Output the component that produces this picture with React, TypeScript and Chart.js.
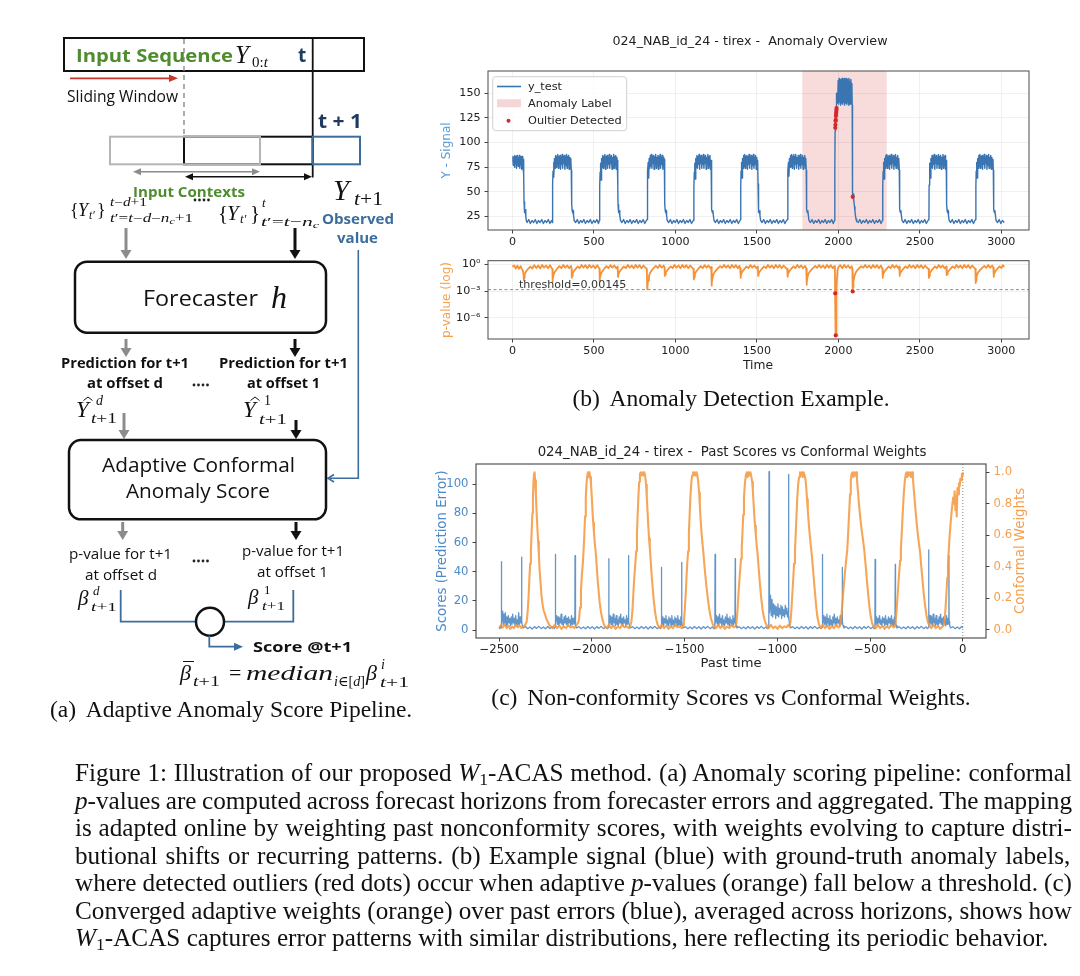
import React, { useEffect, useLayoutEffect, useRef } from "react";
import { Chart, registerables } from "chart.js";

Chart.register(...registerables);

// ---------------- axis ticks & limits ----------------
const SIGNAL_X_TICKS = [0, 500, 1000, 1500, 2000, 2500, 3000];
const SIGNAL_Y_TICKS = [25, 50, 75, 100, 125, 150];
const PVALUE_TICKS = [1e-6, 1e-3, 1];
const PVALUE_TICK_LABELS = ["10⁻⁶", "10⁻³", "10⁰"];
const PAST_X_TICKS = [-2500, -2000, -1500, -1000, -500, 0];
const SCORE_TICKS = [0, 20, 40, 60, 80, 100];
const WEIGHT_TICKS = [0, 0.2, 0.4, 0.6, 0.8, 1.0];

const TIME_LIMITS = [-150, 3170];
const SIGNAL_LIMITS = [11.4, 172.6];
const PVALUE_LIMITS = [4.4e-9, 2.5];
const PAST_LIMITS = [-2625, 125];
const SCORE_LIMITS = [-5.4, 113.9];
const WEIGHT_LIMITS = [-0.053, 1.053];

const ANOMALY_LABEL = [1779, 2297];
const THRESHOLD = 0.00145;

// ---------------- series (flat x,y pairs) ----------------
const Y_TEST = [
  0,80, 3,86, 5,77, 8,85, 10,79, 13,87, 15,75, 18,86, 20,80, 23,85, 25,74, 28,87, 30,78, 33,86, 35,76, 38,85, 40,79, 43,87, 45,74, 48,84, 50,78, 53,86, 55,73, 58,85, 60,77, 63,86, 65,74, 68,83,
  70,68, 71,40, 73,33, 76,29, 79,32, 82,25, 85,21,
  90,19, 100,22, 110,18, 120,21, 130,19, 140,22, 150,18, 160,21, 170,19, 180,22, 190,18, 200,21, 210,19, 220,22, 230,18, 240,21, 245,19,
  246,22, 247,58, 249,71, 252,80, 255,65, 258,84, 262,74, 265,87, 268,75, 272,86, 275,78, 278,88, 282,74, 285,86, 288,79, 292,87, 295,73, 298,85, 302,78, 305,88, 308,74, 312,86, 315,79, 318,87, 322,73, 325,85, 328,77, 332,88, 335,74, 338,86, 342,78, 345,87, 348,73, 352,85, 355,77, 358,84, 361,72,
  363,55, 364,38, 366,32, 369,29, 372,31, 375,26, 379,21,
  388,19, 398,22, 408,18, 418,21, 428,19, 438,22, 448,18, 458,21, 468,19, 478,22, 488,18, 498,21, 508,19, 518,22, 528,18, 533,21,
  535,22, 536,56, 538,70, 541,79, 544,62, 547,84, 551,75, 554,87, 557,74, 561,86, 564,78, 567,88, 571,73, 574,86, 577,79, 581,87, 584,74, 587,85, 591,78, 594,88, 597,74, 601,86, 604,79, 607,87, 611,73, 614,85, 617,78, 621,88, 624,74, 627,86, 631,77, 634,87, 637,73, 641,85, 644,76, 646,82,
  647,55, 648,37, 650,32, 653,29, 656,31, 659,26, 663,21,
  672,19, 682,22, 692,18, 702,21, 712,19, 722,22, 732,18, 742,21, 752,19, 762,22, 772,18, 782,21, 792,19, 802,22, 812,18, 822,21,
  827,22, 828,57, 830,71, 833,80, 836,64, 839,84, 843,74, 846,87, 849,76, 853,88, 856,74, 859,86, 863,79, 866,87, 869,73, 873,86, 876,78, 879,88, 883,74, 886,85, 889,79, 893,87, 896,73, 899,86, 903,77, 906,88, 909,74, 913,85, 916,78, 919,87, 923,73, 926,85, 929,77, 932,83,
  934,60, 935,38, 937,32, 940,29, 943,31, 946,26, 950,21,
  959,19, 969,22, 979,18, 989,21, 999,19, 1009,22, 1019,18, 1029,21, 1039,19, 1049,22, 1059,18, 1069,21, 1079,19, 1089,22, 1099,18, 1109,21,
  1113,22, 1114,55, 1116,70, 1119,79, 1122,63, 1125,84, 1129,75, 1132,87, 1135,74, 1139,86, 1142,78, 1145,88, 1149,73, 1152,86, 1155,79, 1159,87, 1162,74, 1165,85, 1169,78, 1172,88, 1175,74, 1179,86, 1182,79, 1185,87, 1189,73, 1192,85, 1195,78, 1199,88, 1202,74, 1205,86, 1209,77, 1212,87, 1215,73, 1219,82,
  1221,58, 1222,37, 1224,32, 1227,29, 1230,31, 1233,26, 1237,21,
  1246,19, 1256,22, 1266,18, 1276,21, 1286,19, 1296,22, 1306,18, 1316,21, 1326,19, 1336,22, 1346,18, 1356,21, 1366,19, 1376,22, 1386,18, 1396,21,
  1400,22, 1401,56, 1403,71, 1406,80, 1409,64, 1412,84, 1416,74, 1419,87, 1422,76, 1426,88, 1429,74, 1432,86, 1436,79, 1439,87, 1442,73, 1446,86, 1449,78, 1452,88, 1456,74, 1459,85, 1462,79, 1466,87, 1469,73, 1472,86, 1476,77, 1479,88, 1482,74, 1486,85, 1489,78, 1492,87, 1496,73, 1499,85, 1502,77, 1505,82,
  1507,58, 1508,37, 1510,32, 1513,29, 1516,31, 1519,26, 1523,21,
  1532,19, 1542,22, 1552,18, 1562,21, 1572,19, 1582,22, 1592,18, 1602,21, 1612,19, 1622,22, 1632,18, 1642,21, 1652,19, 1662,22, 1672,18, 1682,21,
  1688,22, 1689,58, 1691,72, 1694,80, 1697,66, 1700,84, 1704,75, 1707,87, 1710,76, 1714,88, 1717,74, 1720,86, 1724,79, 1727,88, 1730,73, 1734,86, 1737,78, 1740,88, 1744,74, 1747,85, 1750,79, 1754,87, 1757,73, 1760,86, 1764,77, 1767,88, 1770,74, 1774,85, 1777,78, 1780,87, 1784,73, 1787,85, 1790,77, 1794,87, 1797,74, 1800,84, 1803,72,
  1804,58, 1805,37, 1807,32, 1810,29, 1813,31, 1816,26, 1820,21,
  1829,19, 1839,22, 1849,18, 1859,21, 1869,19, 1879,22, 1889,18, 1899,21, 1909,19, 1919,22, 1929,18, 1939,21, 1949,19, 1959,22, 1969,18, 1976,21,
  1978,22, 1979,75, 1980,112, 1981,115, 1982,118, 1983,122, 1984,123, 1985,127, 1986,129, 1987,131, 1988,133, 1989,135, 1991,150, 1993,140,
  1996,142, 1999,163, 2002,139, 2005,165, 2008,141, 2011,162, 2014,138, 2017,164, 2020,140, 2023,165, 2026,139, 2029,163, 2032,141, 2035,165, 2038,138, 2041,162, 2044,140, 2047,165, 2050,139, 2053,163, 2056,141, 2059,164, 2062,138, 2065,165, 2068,140, 2071,162, 2074,139, 2077,164, 2080,141, 2083,160, 2085,138,
  2086,100, 2087,60, 2088,45, 2090,44, 2093,48, 2096,42, 2099,35, 2102,30, 2105,26, 2109,22, 2113,20,
  2122,19, 2132,22, 2142,18, 2152,21, 2162,19, 2172,22, 2182,18, 2192,21, 2202,19, 2212,22, 2222,18, 2232,21, 2242,19, 2252,22, 2262,18, 2270,21,
  2272,22, 2273,56, 2275,71, 2278,80, 2281,63, 2284,84, 2288,74, 2291,87, 2294,76, 2298,88, 2301,74, 2304,86, 2308,79, 2311,87, 2314,73, 2318,86, 2321,78, 2324,88, 2328,74, 2331,85, 2334,79, 2338,87, 2341,73, 2344,86, 2348,77, 2351,88, 2354,74, 2358,85, 2361,78, 2364,87, 2368,73, 2371,84, 2374,72,
  2375,58, 2376,37, 2378,32, 2381,29, 2384,31, 2387,26, 2391,21,
  2400,19, 2410,22, 2420,18, 2430,21, 2440,19, 2450,22, 2460,18, 2470,21, 2480,19, 2490,22, 2500,18, 2510,21, 2520,19, 2530,22, 2540,18, 2550,21,
  2556,22, 2557,57, 2559,70, 2562,79, 2565,64, 2568,84, 2572,75, 2575,87, 2578,74, 2582,86, 2585,78, 2588,88, 2592,73, 2595,86, 2598,79, 2602,87, 2605,74, 2608,85, 2612,78, 2615,88, 2618,74, 2622,86, 2625,79, 2628,87, 2632,73, 2635,85, 2638,78, 2642,88, 2645,74, 2648,86, 2652,77, 2655,87, 2658,73, 2662,82,
  2664,58, 2665,37, 2667,32, 2670,29, 2673,31, 2676,26, 2680,21,
  2689,19, 2699,22, 2709,18, 2719,21, 2729,19, 2739,22, 2749,18, 2759,21, 2769,19, 2779,22, 2789,18, 2799,21, 2809,19, 2819,22, 2829,18, 2838,21,
  2843,22, 2844,56, 2846,71, 2849,80, 2852,64, 2855,84, 2859,74, 2862,87, 2865,76, 2869,88, 2872,74, 2875,86, 2879,79, 2882,87, 2885,73, 2889,86, 2892,78, 2895,88, 2899,74, 2902,85, 2905,79, 2909,87, 2912,73, 2915,86, 2919,77, 2922,88, 2925,74, 2929,85, 2932,78, 2935,87, 2939,73, 2942,85, 2945,77, 2949,83, 2951,72,
  2952,58, 2953,37, 2955,32, 2958,29, 2961,31, 2964,26, 2968,21,
  2977,19, 2987,22, 2997,18, 3007,21, 3018,19,
];

const SIGNAL_OUTLIERS = [1981,115, 1982,118, 1983,122, 1984,123, 1985,127, 1986,129, 1987,131, 1988,133, 1989,135, 2088,45];

const P_VALUES = [
  0,0.5, 10,0.75, 20,0.33, 30,0.68, 40,0.3, 50,0.62, 58,0.28, 64,0.2, 68,0.08,
  70,0.016, 72,0.03, 75,0.07, 80,0.12, 88,0.2, 98,0.32, 110,0.55, 122,0.33, 134,0.78, 146,0.38, 158,0.72, 170,0.33, 182,0.82, 194,0.42, 206,0.72, 218,0.35, 230,0.78, 240,0.38, 245,0.3,
  246,0.01, 248,0.02, 252,0.06, 258,0.12, 266,0.2, 276,0.35, 288,0.62, 300,0.36, 312,0.82, 324,0.42, 336,0.72, 348,0.36, 358,0.66, 363,0.33,
  364,0.03, 366,0.05, 370,0.1, 378,0.18, 388,0.3, 400,0.56, 412,0.36, 424,0.82, 436,0.42, 448,0.78, 460,0.36, 472,0.82, 484,0.42, 496,0.72, 508,0.36, 520,0.78, 530,0.4, 534,0.3,
  535,0.012, 537,0.025, 541,0.06, 547,0.12, 555,0.2, 565,0.35, 577,0.62, 589,0.36, 601,0.78, 613,0.42, 625,0.72, 637,0.36, 646,0.55,
  648,0.04, 650,0.06, 654,0.11, 662,0.2, 672,0.32, 684,0.56, 696,0.36, 708,0.82, 720,0.42, 732,0.72, 744,0.36, 756,0.82, 768,0.42, 780,0.78, 792,0.36, 804,0.72, 816,0.4, 825,0.3,
  827,0.0016, 829,0.004, 832,0.015, 838,0.05, 846,0.12, 856,0.22, 868,0.4, 880,0.66, 892,0.38, 904,0.82, 916,0.42, 928,0.72, 934,0.4,
  935,0.05, 937,0.07, 941,0.12, 949,0.2, 959,0.32, 971,0.56, 983,0.36, 995,0.82, 1007,0.42, 1019,0.72, 1031,0.36, 1043,0.82, 1055,0.42, 1067,0.78, 1079,0.36, 1091,0.72, 1103,0.4, 1111,0.3,
  1113,0.02, 1115,0.035, 1119,0.07, 1125,0.13, 1133,0.2, 1143,0.35, 1155,0.62, 1167,0.36, 1179,0.78, 1191,0.42, 1203,0.72, 1215,0.36, 1220,0.5,
  1222,0.004, 1224,0.008, 1227,0.025, 1233,0.07, 1241,0.13, 1251,0.22, 1263,0.38, 1275,0.62, 1287,0.4, 1299,0.82, 1311,0.42, 1323,0.72, 1335,0.36, 1347,0.82, 1359,0.42, 1371,0.78, 1383,0.36, 1393,0.66, 1398,0.33,
  1400,0.03, 1402,0.05, 1406,0.1, 1414,0.18, 1424,0.3, 1436,0.56, 1448,0.36, 1460,0.8, 1472,0.42, 1484,0.72, 1496,0.36, 1506,0.55,
  1508,0.05, 1510,0.07, 1514,0.12, 1522,0.2, 1532,0.32, 1544,0.56, 1556,0.36, 1568,0.82, 1580,0.42, 1592,0.72, 1604,0.36, 1616,0.82, 1628,0.42, 1640,0.78, 1652,0.36, 1664,0.72, 1676,0.4, 1686,0.3,
  1688,0.04, 1690,0.06, 1694,0.11, 1702,0.2, 1712,0.32, 1724,0.56, 1736,0.36, 1748,0.82, 1760,0.42, 1772,0.74, 1784,0.36, 1796,0.66, 1803,0.33,
  1805,0.005, 1807,0.01, 1810,0.03, 1816,0.08, 1824,0.14, 1834,0.24, 1846,0.4, 1858,0.66, 1870,0.4, 1882,0.82, 1894,0.42, 1906,0.72, 1918,0.36, 1930,0.82, 1942,0.42, 1954,0.78, 1966,0.36, 1975,0.6, 1979,0.3,
  1980,0.0006, 1981,0.00056, 1982,1e-6, 1983,3e-8, 1984,1.1e-8, 1985,5e-8, 1986,2e-7, 1987,1.2e-8, 1988,4e-7, 1989,2e-5, 1990,1e-3, 1992,0.05, 1994,0.2, 2000,0.45, 2012,0.78, 2024,0.36, 2036,0.82, 2048,0.42, 2060,0.72, 2072,0.36, 2082,0.6, 2086,0.3,
  2088,0.0009, 2090,0.003, 2093,0.012, 2099,0.05, 2107,0.12, 2117,0.22, 2129,0.38, 2141,0.62, 2153,0.4, 2165,0.82, 2177,0.42, 2189,0.72, 2201,0.36, 2213,0.82, 2225,0.42, 2237,0.78, 2249,0.36, 2261,0.72, 2270,0.33,
  2272,0.03, 2274,0.05, 2278,0.1, 2286,0.18, 2296,0.3, 2308,0.56, 2320,0.36, 2332,0.8, 2344,0.42, 2356,0.72, 2368,0.36, 2374,0.55,
  2376,0.05, 2378,0.07, 2382,0.12, 2390,0.2, 2400,0.32, 2412,0.56, 2424,0.36, 2436,0.82, 2448,0.42, 2460,0.72, 2472,0.36, 2484,0.82, 2496,0.42, 2508,0.78, 2520,0.36, 2532,0.72, 2544,0.4, 2554,0.3,
  2556,0.03, 2558,0.05, 2562,0.1, 2570,0.18, 2580,0.3, 2592,0.56, 2604,0.36, 2616,0.8, 2628,0.42, 2640,0.72, 2652,0.36, 2662,0.55,
  2665,0.06, 2667,0.08, 2671,0.13, 2679,0.2, 2689,0.32, 2701,0.56, 2713,0.36, 2725,0.82, 2737,0.42, 2749,0.72, 2761,0.36, 2773,0.82, 2785,0.42, 2797,0.78, 2809,0.36, 2821,0.72, 2833,0.4, 2841,0.3,
  2843,0.008, 2845,0.015, 2848,0.04, 2854,0.09, 2862,0.15, 2872,0.25, 2884,0.42, 2896,0.66, 2908,0.4, 2920,0.82, 2932,0.42, 2944,0.72, 2951,0.4,
  2953,0.04, 2955,0.06, 2959,0.11, 2967,0.2, 2977,0.32, 2989,0.56, 3001,0.38, 3010,0.78, 3018,0.5,
];

const PVALUE_OUTLIERS = [1981,0.00056, 1984,1.1e-8, 2088,0.0009];

const PAST_SCORES = [
  -2500,2, -2496,1, -2492,2.5, -2489,1.5,
  -2488,47, -2487,14, -2484,6, -2481,13, -2478,4, -2475,11, -2471,5, -2467,12, -2463,3, -2459,9, -2455,4, -2451,10, -2447,5, -2443,8, -2439,3, -2435,9, -2431,4, -2427,11, -2423,5, -2419,8, -2415,3, -2411,10, -2407,4, -2403,7, -2399,3, -2395,12, -2391,4, -2387,9, -2383,5, -2380,8, -2379,50, -2378,6, -2375,3, -2370,1.5,
  -2358,2.5, -2346,1, -2334,2.2, -2322,0.8, -2310,2.4, -2298,1.2, -2286,2.6, -2274,1, -2262,2.2, -2250,0.9, -2238,2.5, -2226,1.1, -2214,2.3, -2204,1, -2199,2,
  -2198,52, -2197,12, -2194,5, -2190,10, -2186,4, -2182,9, -2178,3, -2174,8, -2170,5, -2166,11, -2162,4, -2158,7, -2154,3, -2150,9, -2146,5, -2142,10, -2138,4, -2134,8, -2130,3, -2126,9, -2122,5, -2118,7, -2114,3, -2110,10, -2106,4, -2102,8, -2098,5, -2094,9, -2092,4, -2091,51, -2090,6, -2087,3, -2082,1.5,
  -2070,2.4, -2058,1, -2046,2.2, -2034,0.9, -2022,2.5, -2010,1.1, -1998,2.3, -1986,0.8, -1974,2.4, -1962,1.2, -1950,2.6, -1938,1, -1926,2.2, -1915,1, -1910,2,
  -1909,49, -1908,12, -1905,5, -1901,10, -1897,4, -1893,9, -1889,3, -1885,11, -1881,5, -1877,8, -1873,3, -1869,10, -1865,4, -1861,7, -1857,3, -1853,9, -1849,5, -1845,11, -1841,4, -1837,8, -1833,3, -1829,9, -1825,5, -1821,7, -1817,3, -1813,10, -1809,4, -1805,8, -1803,5, -1802,51, -1801,6, -1798,3, -1793,1.5,
  -1781,2.4, -1769,1, -1757,2.2, -1745,0.9, -1733,2.5, -1721,1.1, -1709,2.3, -1697,0.8, -1685,2.4, -1673,1.2, -1661,2.6, -1649,1, -1637,2.2, -1630,1, -1626,2,
  -1625,43, -1624,11, -1621,4, -1617,9, -1613,3, -1609,8, -1605,5, -1601,10, -1597,4, -1593,7, -1589,3, -1585,9, -1581,5, -1577,8, -1573,3, -1569,10, -1565,4, -1561,7, -1557,3, -1553,9, -1549,5, -1545,8, -1541,3, -1537,10, -1533,4, -1529,7, -1525,3, -1521,9, -1518,4, -1516,46.5, -1515,6, -1512,3, -1507,1.5,
  -1495,2.4, -1483,1, -1471,2.2, -1459,0.9, -1447,2.5, -1435,1.1, -1423,2.3, -1411,0.8, -1399,2.4, -1387,1.2, -1375,2.6, -1363,1, -1351,2.2, -1341,1, -1337,2,
  -1336,52, -1335,13, -1332,5, -1328,10, -1324,4, -1320,9, -1316,3, -1312,11, -1308,5, -1304,8, -1300,3, -1296,10, -1292,4, -1288,7, -1284,3, -1280,9, -1276,5, -1272,11, -1268,4, -1264,8, -1260,3, -1256,9, -1252,5, -1248,7, -1244,3, -1240,10, -1236,4, -1232,8, -1229,5, -1227,49, -1226,6, -1223,3, -1218,1.5,
  -1206,2.4, -1194,1, -1182,2.2, -1170,0.9, -1158,2.5, -1146,1.1, -1134,2.3, -1122,0.8, -1110,2.4, -1098,1.2, -1086,2.6, -1074,1, -1062,2.2, -1052,1, -1046,2,
  -1045,108.6, -1044,27, -1041,12, -1037,24, -1033,10, -1029,21, -1025,9, -1021,18, -1017,11, -1013,17, -1009,8, -1005,16, -1001,10, -997,18, -993,9, -989,15, -985,11, -981,17, -977,8, -973,16, -969,10, -965,14, -961,9, -957,17, -953,11, -949,15, -945,9, -941,13, -940,8, -939,106.8, -938,10, -935,4, -930,1.5,
  -918,2.4, -906,1, -894,2.2, -882,0.9, -870,2.5, -858,1.1, -846,2.3, -834,0.8, -822,2.4, -810,1.2, -798,2.6, -786,1, -774,2.2, -764,1, -758,2,
  -757,52, -756,12, -753,5, -749,10, -745,4, -741,9, -737,3, -733,11, -729,5, -725,8, -721,3, -717,10, -713,4, -709,7, -705,3, -701,9, -697,5, -693,11, -689,4, -685,8, -681,3, -677,9, -673,5, -669,7, -665,3, -661,10, -657,4, -653,8, -651,5, -650,43, -649,6, -646,3, -641,1.5,
  -629,2.4, -617,1, -605,2.2, -593,0.9, -581,2.5, -569,1.1, -557,2.3, -545,0.8, -533,2.4, -521,1.2, -509,2.6, -497,1, -485,2.2, -478,1, -474,2,
  -473,48.5, -472,11, -469,4, -465,9, -461,3, -457,8, -453,5, -449,10, -445,4, -441,7, -437,3, -433,9, -429,5, -425,8, -421,3, -417,10, -413,4, -409,7, -405,3, -401,9, -397,5, -393,8, -389,3, -385,10, -381,4, -377,7, -373,3, -369,9, -366,4, -364,45, -363,6, -360,3, -355,1.5,
  -343,2.4, -331,1, -319,2.2, -307,0.9, -295,2.5, -283,1.1, -271,2.3, -259,0.8, -247,2.4, -235,1.2, -223,2.6, -211,1, -199,2.2, -190,1, -185,2,
  -184,55, -183,13, -180,5, -176,10, -172,4, -168,9, -164,3, -160,11, -156,5, -152,8, -148,3, -144,10, -140,4, -136,7, -132,3, -128,9, -124,5, -120,11, -116,4, -112,8, -108,3, -104,9, -100,5, -96,7, -92,3, -88,10, -84,4, -80,8, -77,5, -75,51, -74,6, -71,3, -66,1.5,
  -54,2.4, -42,1, -30,2.2, -18,0.9, -6,2.5, 0,1.5,
];

const CONFORMAL_WEIGHTS = [
  -2500,0.01, -2490,0.03, -2480,0.015, -2470,0.035, -2460,0.01, -2450,0.025, -2440,0.005, -2430,0.02, -2420,0.01, -2410,0.03, -2400,0.015, -2390,0.025, -2380,0.01, -2370,0.02, -2360,0.03,
  -2352,0.05, -2346,0.12, -2341,0.22, -2337,0.33, -2333,0.42, -2329,0.5, -2325,0.62, -2321,0.74, -2318,0.85, -2315,0.94, -2312,0.99, -2309,1.0, -2306,0.95, -2302,0.85, -2298,0.74, -2294,0.65, -2290,0.56, -2286,0.48, -2282,0.38, -2277,0.3, -2272,0.22, -2266,0.16, -2260,0.12, -2253,0.1, -2246,0.07, -2238,0.05, -2230,0.03, -2222,0.02,
  -2212,0.01, -2200,0.03, -2188,0.01, -2176,0.025, -2164,0.005, -2152,0.02, -2140,0.01, -2128,0.03, -2116,0.015, -2104,0.02, -2094,0.01, -2084,0.03, -2076,0.04,
  -2070,0.06, -2064,0.14, -2059,0.25, -2054,0.35, -2049,0.42, -2045,0.5, -2041,0.6, -2037,0.72, -2033,0.84, -2029,0.93, -2025,0.98, -2021,1.0, -2017,0.97, -2013,1.0, -2009,0.97, -2005,0.93, -2001,0.85, -1997,0.76, -1993,0.68, -1989,0.62, -1985,0.56, -1980,0.5, -1975,0.42, -1970,0.33, -1964,0.25, -1958,0.17, -1951,0.11, -1944,0.07, -1937,0.04, -1930,0.02,
  -1920,0.01, -1908,0.03, -1896,0.01, -1884,0.025, -1872,0.005, -1860,0.02, -1848,0.01, -1836,0.03, -1824,0.015, -1812,0.02, -1800,0.01, -1792,0.03,
  -1787,0.05, -1781,0.13, -1776,0.24, -1771,0.34, -1766,0.42, -1761,0.5, -1757,0.62, -1753,0.74, -1749,0.85, -1745,0.94, -1741,0.99, -1737,1.0, -1732,0.98, -1727,1.0, -1722,0.98, -1717,1.0, -1712,0.97, -1708,0.92, -1704,0.84, -1700,0.75, -1696,0.66, -1692,0.58, -1688,0.52, -1683,0.44, -1678,0.35, -1672,0.26, -1666,0.18, -1659,0.11, -1652,0.06, -1645,0.03,
  -1635,0.01, -1623,0.03, -1611,0.01, -1599,0.025, -1587,0.005, -1575,0.02, -1563,0.01, -1551,0.03, -1539,0.015, -1527,0.02, -1515,0.01, -1508,0.03,
  -1504,0.05, -1499,0.13, -1494,0.23, -1490,0.33, -1486,0.42, -1481,0.5, -1477,0.62, -1473,0.73, -1469,0.84, -1465,0.92, -1460,0.98, -1455,1.0, -1450,0.98, -1445,1.0, -1440,0.98, -1435,1.0, -1430,0.97, -1426,0.93, -1422,0.87, -1418,0.79, -1414,0.7, -1409,0.62, -1404,0.55, -1399,0.49, -1394,0.42, -1388,0.34, -1381,0.26, -1374,0.19, -1366,0.12, -1358,0.07, -1350,0.04, -1343,0.02,
  -1331,0.01, -1319,0.03, -1307,0.01, -1295,0.025, -1283,0.005, -1271,0.02, -1259,0.01, -1247,0.03, -1235,0.015, -1227,0.02,
  -1221,0.04, -1215,0.12, -1210,0.22, -1205,0.31, -1200,0.39, -1196,0.45, -1192,0.52, -1188,0.62, -1184,0.73, -1180,0.84, -1175,0.93, -1170,0.98, -1165,1.0, -1160,0.97, -1155,1.0, -1150,0.98, -1145,1.0, -1140,0.97, -1136,0.94, -1132,0.88, -1128,0.8, -1124,0.72, -1120,0.66, -1116,0.6, -1111,0.53, -1106,0.47, -1100,0.38, -1094,0.29, -1087,0.2, -1080,0.13, -1073,0.08, -1066,0.05, -1059,0.03,
  -1047,0.01, -1035,0.03, -1023,0.01, -1011,0.02, -999,0.005, -987,0.025, -975,0.01, -963,0.02, -951,0.015, -941,0.03, -934,0.02,
  -929,0.05, -924,0.13, -919,0.23, -914,0.33, -910,0.42, -905,0.5, -901,0.61, -897,0.72, -893,0.83, -888,0.92, -883,0.97, -878,1.0, -873,0.98, -868,1.0, -863,0.97, -858,1.0, -853,0.98, -848,0.95, -844,0.9, -840,0.83, -836,0.76, -831,0.68, -826,0.61, -820,0.54, -814,0.47, -808,0.39, -802,0.3, -796,0.22, -790,0.14, -784,0.08, -777,0.04,
  -767,0.01, -755,0.03, -743,0.01, -731,0.025, -719,0.005, -707,0.02, -695,0.01, -683,0.03, -671,0.015, -663,0.02,
  -659,0.04, -653,0.11, -647,0.2, -641,0.29, -635,0.37, -629,0.44, -623,0.51, -618,0.62, -613,0.74, -608,0.86, -604,0.95, -600,0.99, -595,1.0, -590,0.97, -585,1.0, -580,0.98, -575,1.0, -571,0.96, -567,0.9, -562,0.83, -557,0.76, -551,0.69, -545,0.63, -538,0.57, -531,0.5, -524,0.41, -517,0.31, -510,0.22, -503,0.14, -496,0.08, -489,0.04, -482,0.02,
  -470,0.01, -458,0.03, -446,0.01, -434,0.025, -422,0.005, -410,0.02, -398,0.01, -386,0.03, -374,0.015, -366,0.02,
  -363,0.04, -357,0.12, -352,0.21, -347,0.3, -342,0.38, -338,0.44, -334,0.51, -329,0.62, -324,0.74, -319,0.85, -314,0.93, -309,0.98, -304,1.0, -299,0.97, -294,1.0, -289,0.98, -284,1.0, -279,0.97, -274,1.0, -269,0.96, -265,0.9, -260,0.83, -255,0.76, -249,0.68, -243,0.61, -237,0.55, -230,0.49, -224,0.4, -217,0.31, -210,0.22, -203,0.15, -196,0.09, -189,0.05, -182,0.03,
  -170,0.01, -158,0.03, -146,0.01, -134,0.025, -122,0.005, -110,0.02, -102,0.03,
  -98,0.06, -93,0.14, -88,0.24, -84,0.33, -80,0.42, -76,0.5, -72,0.58, -67,0.66, -62,0.73, -57,0.79, -52,0.84, -48,0.8, -44,0.88, -40,0.76, -36,0.85, -33,0.72, -29,0.9, -25,0.86, -21,0.93, -17,0.91, -13,0.96, -9,0.95, -5,0.99, -2,0.98, 0,1.0,
];

const CAPTION_LINES_TEXT = [
  "Figure 1: Illustration of our proposed |W|-ACAS method. (a) Anomaly scoring pipeline: conformal",
  "|p|-values are computed across forecast horizons from forecaster errors and aggregated. The mapping",
  "is adapted online by weighting past nonconformity scores, with weights evolving to capture distri-",
  "butional shifts or recurring patterns.  (b) Example signal (blue) with ground-truth anomaly labels,",
  "where detected outliers (red dots) occur when adaptive |p|-values (orange) fall below a threshold. (c)",
  "Converged adaptive weights (orange) over past errors (blue), averaged across horizons, shows how",
  "|W|-ACAS captures error patterns with similar distributions, here reflecting its periodic behavior.",
];

// ---------------- helpers ----------------
const toXY = (a: number[]) => {
  const out: { x: number; y: number }[] = [];
  for (let i = 0; i < a.length; i += 2) out.push({ x: a[i], y: a[i + 1] });
  return out;
};

const SANS = "'Open Sans', 'Noto Sans', sans-serif";
const SERIF = "'Liberation Serif', 'DejaVu Serif', serif";
const MPL = "'DejaVu Sans', sans-serif";

const decorPlugin: any = {
  id: "decor",
  beforeDatasetsDraw(chart: any, _a: any, o: any) {
    const { ctx, chartArea: a, scales } = chart;
    ctx.save();
    (o.spans || []).forEach((s: any) => {
      const p0 = scales.x.getPixelForValue(s.from);
      const p1 = scales.x.getPixelForValue(s.to);
      ctx.fillStyle = s.color;
      ctx.fillRect(p0, a.top, p1 - p0, a.bottom - a.top);
    });
    (o.vlines || []).forEach((v: any) => {
      const px = scales.x.getPixelForValue(v.x);
      ctx.strokeStyle = v.color;
      ctx.lineWidth = v.width;
      ctx.setLineDash(v.dash);
      ctx.beginPath();
      ctx.moveTo(px, a.top);
      ctx.lineTo(px, a.bottom);
      ctx.stroke();
    });
    ctx.restore();
  },
  afterDraw(chart: any, _a: any, o: any) {
    const { ctx, chartArea: a, scales } = chart;
    ctx.save();
    if (o.frame) {
      ctx.strokeStyle = o.frame;
      ctx.lineWidth = o.frameWidth || 1;
      ctx.strokeRect(a.left, a.top, a.right - a.left, a.bottom - a.top);
    }
    (o.notes || []).forEach((n: any) => {
      ctx.font = n.font;
      ctx.fillStyle = n.color;
      ctx.textAlign = "left";
      ctx.textBaseline = "alphabetic";
      ctx.fillText(n.text, scales.x.getPixelForValue(n.x), scales.y.getPixelForValue(n.y));
    });
    (o.texts || []).forEach((t: any) => {
      ctx.save();
      ctx.font = t.font;
      ctx.fillStyle = t.color;
      ctx.textAlign = "center";
      ctx.textBaseline = "middle";
      ctx.translate(t.x - o.origin[0], t.y - o.origin[1]);
      if (t.rotate) ctx.rotate(t.rotate);
      ctx.fillText(t.text, 0, 0);
      ctx.restore();
    });
    ctx.restore();
  },
};

const fixedTicks = (vals: number[]) => (s: any) => {
  s.ticks = vals.map((v) => ({ value: v }));
};

function axis(opts: any) {
  const { min, max, ticks, size, color, grid, tickPad, fit, fitKey, position, label, type } = opts;
  return {
    type: type || "linear",
    position,
    min,
    max,
    afterBuildTicks: fixedTicks(ticks),
    afterFit: (s: any) => {
      s[fitKey] = fit;
    },
    border: { display: false },
    grid: {
      display: true,
      drawOnChartArea: !!grid,
      color: grid || "rgba(0,0,0,0)",
      lineWidth: 0.8,
      drawTicks: true,
      tickLength: 3.5,
      tickColor: "#444",
      tickWidth: 1,
    },
    ticks: {
      autoSkip: false,
      maxRotation: 0,
      padding: tickPad,
      color,
      font: { family: MPL, size },
      callback: label,
    },
  };
}

function useChart(ref: any, make: () => any) {
  useEffect(() => {
    const chart = new Chart(ref.current, make());
    return () => chart.destroy();
  }, []);
}

// ---------------- charts ----------------
function SignalChart() {
  const ref = useRef<HTMLCanvasElement>(null);
  useChart(ref, () => ({
    type: "line",
    data: {
      datasets: [
        {
          label: "Oultier Detected",
          data: toXY(SIGNAL_OUTLIERS),
          showLine: false,
          pointRadius: 2.1,
          pointBorderWidth: 0,
          pointBackgroundColor: "#d62728",
          order: 0,
        },
        {
          label: "y_test",
          data: toXY(Y_TEST),
          borderColor: "#3a74b1",
          borderWidth: 1.4,
          borderJoinStyle: "round",
          pointRadius: 0,
          order: 1,
        },
      ],
    },
    options: {
      animation: false,
      responsive: false,
      layout: { padding: { left: 0, right: 51, top: 41, bottom: 0 } },
      scales: {
        x: axis({ min: TIME_LIMITS[0], max: TIME_LIMITS[1], ticks: SIGNAL_X_TICKS, size: 11.1, color: "#222", grid: "#ececec", tickPad: 2, fit: 25, fitKey: "height", label: (v: number) => String(v) }),
        y: axis({ min: SIGNAL_LIMITS[0], max: SIGNAL_LIMITS[1], ticks: SIGNAL_Y_TICKS, size: 11.1, color: "#222", grid: "#ececec", tickPad: 4, fit: 58, fitKey: "width", label: (v: number) => String(v) }),
      },
      plugins: {
        legend: { display: false },
        tooltip: { enabled: false },
        decor: {
          origin: [430, 30],
          frame: "#5a5a5a",
          frameWidth: 1.1,
          spans: [{ from: ANOMALY_LABEL[0], to: ANOMALY_LABEL[1], color: "rgba(214,39,40,0.16)" }],
          texts: [
            { text: "024_NAB_id_24 - tirex -  Anomaly Overview", x: 750, y: 42, font: `12.7px ${MPL}`, color: "#222" },
            { text: "Y - Signal", x: 447, y: 150.5, font: `12px ${MPL}`, color: "#5b9bd5", rotate: -Math.PI / 2 },
          ],
        },
      },
    },
    plugins: [decorPlugin],
  }));
  return <canvas ref={ref} width={650} height={225} style={{ position: "absolute", left: 430, top: 30 }} />;
}

function PValueChart() {
  const ref = useRef<HTMLCanvasElement>(null);
  useChart(ref, () => ({
    type: "line",
    data: {
      datasets: [
        {
          label: "outliers",
          data: toXY(PVALUE_OUTLIERS),
          showLine: false,
          pointRadius: 2.1,
          pointBorderWidth: 0,
          pointBackgroundColor: "#d62728",
          order: 0,
        },
        {
          label: "p-value",
          data: toXY(P_VALUES),
          borderColor: "#f39237",
          borderWidth: 1.8,
          borderJoinStyle: "round",
          pointRadius: 0,
          order: 1,
        },
        {
          label: "threshold",
          data: [
            { x: TIME_LIMITS[0], y: THRESHOLD },
            { x: TIME_LIMITS[1], y: THRESHOLD },
          ],
          borderColor: "#8c8c8c",
          borderWidth: 1,
          borderDash: [3, 2.5],
          pointRadius: 0,
          order: 2,
        },
      ],
    },
    options: {
      animation: false,
      responsive: false,
      layout: { padding: { left: 0, right: 51, top: 10, bottom: 0 } },
      scales: {
        x: axis({ min: TIME_LIMITS[0], max: TIME_LIMITS[1], ticks: SIGNAL_X_TICKS, size: 11.1, color: "#222", grid: "#ececec", tickPad: 2, fit: 36, fitKey: "height", label: (v: number) => String(v) }),
        y: axis({ type: "logarithmic", min: PVALUE_LIMITS[0], max: PVALUE_LIMITS[1], ticks: PVALUE_TICKS, size: 11.1, color: "#222", grid: "#ececec", tickPad: 4, fit: 58, fitKey: "width", label: (_v: number, i: number) => PVALUE_TICK_LABELS[i] }),
      },
      plugins: {
        legend: { display: false },
        tooltip: { enabled: false },
        decor: {
          origin: [430, 250],
          frame: "#5a5a5a",
          frameWidth: 1.1,
          notes: [{ text: "threshold=0.00145", x: 40, y: 0.0023, font: `11.1px ${MPL}`, color: "#333" }],
          texts: [
            { text: "p-value (log)", x: 447, y: 300, font: `12px ${MPL}`, color: "#f5a14f", rotate: -Math.PI / 2 },
            { text: "Time", x: 758, y: 366, font: `12.3px ${MPL}`, color: "#222" },
          ],
        },
      },
    },
    plugins: [decorPlugin],
  }));
  return <canvas ref={ref} width={650} height={125} style={{ position: "absolute", left: 430, top: 250 }} />;
}

function WeightsChart() {
  const ref = useRef<HTMLCanvasElement>(null);
  const minus = (v: number) => (v < 0 ? "\u2212" + Math.abs(v) : String(v));
  useChart(ref, () => ({
    type: "line",
    data: {
      datasets: [
        {
          label: "Conformal Weights",
          data: toXY(CONFORMAL_WEIGHTS),
          yAxisID: "y1",
          borderColor: "rgba(245,150,60,0.85)",
          borderWidth: 2.1,
          borderJoinStyle: "round",
          pointRadius: 0,
          order: 0,
        },
        {
          label: "Scores",
          data: toXY(PAST_SCORES),
          yAxisID: "y",
          borderColor: "rgba(70,130,192,0.85)",
          borderWidth: 1.3,
          borderJoinStyle: "round",
          pointRadius: 0,
          order: 1,
        },
      ],
    },
    options: {
      animation: false,
      responsive: false,
      layout: { padding: { left: 0, right: 54, top: 24, bottom: 0 } },
      scales: {
        x: axis({ min: PAST_LIMITS[0], max: PAST_LIMITS[1], ticks: PAST_X_TICKS, size: 11.7, color: "#222", tickPad: 1, fit: 42, fitKey: "height", label: minus }),
        y: axis({ position: "left", min: SCORE_LIMITS[0], max: SCORE_LIMITS[1], ticks: SCORE_TICKS, size: 11.7, color: "#4f8ac8", tickPad: 4, fit: 46, fitKey: "width", label: (v: number) => String(v) }),
        y1: axis({ position: "right", min: WEIGHT_LIMITS[0], max: WEIGHT_LIMITS[1], ticks: WEIGHT_TICKS, size: 11.7, color: "#f5a04f", tickPad: 4, fit: 40, fitKey: "width", label: (v: number) => v.toFixed(1) }),
      },
      plugins: {
        legend: { display: false },
        tooltip: { enabled: false },
        decor: {
          origin: [430, 440],
          frame: "#444",
          frameWidth: 1.1,
          vlines: [{ x: 0, color: "#666", width: 0.8, dash: [1, 2] }],
          texts: [
            { text: "024_NAB_id_24 - tirex -  Past Scores vs Conformal Weights", x: 732, y: 453, font: `13.3px ${MPL}`, color: "#222" },
            { text: "Scores (Prediction Error)", x: 443, y: 551, font: `13.3px ${MPL}`, color: "#4f8ac8", rotate: -Math.PI / 2 },
            { text: "Conformal Weights", x: 1021, y: 551, font: `13.3px ${MPL}`, color: "#f5a04f", rotate: -Math.PI / 2 },
            { text: "Past time", x: 731, y: 664, font: `13.1px ${MPL}`, color: "#222" },
          ],
        },
      },
    },
    plugins: [decorPlugin],
  }));
  return <canvas ref={ref} width={650} height={240} style={{ position: "absolute", left: 430, top: 440 }} />;
}

// ---------------- diagram (a) ----------------
const GREEN = "#4e8c2e";
const NAVY = "#1e3a5f";
const LBLUE = "#3c6d9c";
const RED = "#c8362e";

function Txt(p: any) {
  const { x, y, size, w, weight = 400, fill = "#111", family = SANS, italic = false, children } = p;
  const extra: any = w ? { textLength: w, lengthAdjust: "spacingAndGlyphs" } : {};
  return (
    <text x={x} y={y} fontSize={size} fontWeight={weight} fill={fill} fontFamily={family} fontStyle={italic ? "italic" : "normal"} {...extra}>
      {children}
    </text>
  );
}

function Down({ x, y1, y2, color, w = 3 }: any) {
  return (
    <g>
      <line x1={x} y1={y1} x2={x} y2={y2 - 8} stroke={color} strokeWidth={w} />
      <polygon points={`${x - 5.5},${y2 - 9} ${x + 5.5},${y2 - 9} ${x},${y2}`} fill={color} />
    </g>
  );
}

function HArrow2({ x1, x2, y, color }: any) {
  return (
    <g>
      <line x1={x1 + 6} y1={y} x2={x2 - 6} y2={y} stroke={color} strokeWidth={1.6} />
      <polygon points={`${x1},${y} ${x1 + 8},${y - 3.5} ${x1 + 8},${y + 3.5}`} fill={color} />
      <polygon points={`${x2},${y} ${x2 - 8},${y - 3.5} ${x2 - 8},${y + 3.5}`} fill={color} />
    </g>
  );
}

function Dots({ x, y }: any) {
  return (
    <g fill="#222">
      {[0, 1, 2, 3].map((i) => (
        <circle key={i} cx={x + i * 4.5} cy={y} r={1.4} />
      ))}
    </g>
  );
}

function Hat({ cx, y }: any) {
  return <path d={`M${cx - 4.5},${y + 2.5} L${cx},${y - 1} L${cx + 4.5},${y + 2.5}`} stroke="#111" strokeWidth={1} fill="none" />;
}

function Diagram() {
  const it = { fontFamily: SERIF, fontStyle: "italic" as const, fill: "#111" };
  const up = { fontFamily: SERIF, fontStyle: "normal" as const, fill: "#111" };
  return (
    <g>
      {/* input sequence */}
      <rect x={64} y={38} width={300} height={33} fill="none" stroke="#111" strokeWidth={2} />
      <line x1={312.7} y1={38} x2={312.7} y2={177.5} stroke="#111" strokeWidth={1.8} />
      <line x1={184} y1={39} x2={184} y2={137} stroke="#8a8a8a" strokeWidth={1.4} strokeDasharray="5 4" />
      <Txt x={76} y={61.5} size={18} w={157} weight={700} fill={GREEN}>Input Sequence</Txt>
      <text x={235} y={63} fontSize={25} {...it}>Y</text>
      <text x={252} y={67} fontSize={15} {...up}>0:<tspan fontStyle="italic">t</tspan></text>
      <Txt x={298} y={62} size={19} weight={700} fill={NAVY}>t</Txt>
      <line x1={70} y1={78.3} x2={170} y2={78.3} stroke={RED} strokeWidth={1.8} />
      <polygon points="178,78.3 169,74.6 169,82" fill={RED} />
      <Txt x={67} y={101.5} size={15.5} w={111}>Sliding Window</Txt>
      <Txt x={318} y={127.5} size={19.5} w={44} weight={700} fill={NAVY}>t + 1</Txt>
      {/* context boxes */}
      <rect x={184} y={136.7} width={128.7} height={27.6} fill="none" stroke="#111" strokeWidth={2} />
      <rect x={110} y={136.7} width={150} height={27.6} fill="none" stroke="#b5b5b5" strokeWidth={2} />
      <rect x={312.7} y={136.7} width={47.3} height={27.6} fill="none" stroke={LBLUE} strokeWidth={2} />
      <HArrow2 x1={133} x2={260} y={171.7} color="#8c8c8c" />
      <HArrow2 x1={185} x2={312} y={176.7} color="#111" />
      <Txt x={133} y={197} size={14.5} w={112} weight={700} fill={GREEN}>Input Contexts</Txt>
      {/* contexts math */}
      <text x={70} y={216} fontSize={18} {...up}>{"{"}</text>
      <text x={78} y={216} fontSize={18} {...it}>Y</text>
      <text x={89} y={219} fontSize={11.5} {...it}>t′</text>
      <text x={97} y={216} fontSize={18} {...up}>{"}"}</text>
      <text x={110} y={206} fontSize={11.5} {...up} textLength={37} lengthAdjust="spacingAndGlyphs"><tspan fontStyle="italic">t</tspan>−<tspan fontStyle="italic">d</tspan>+1</text>
      <text x={110} y={222} fontSize={11.5} {...up} textLength={83} lengthAdjust="spacingAndGlyphs"><tspan fontStyle="italic">t</tspan>′=<tspan fontStyle="italic">t</tspan>−<tspan fontStyle="italic">d</tspan>−<tspan fontStyle="italic">n</tspan><tspan fontSize={8} fontStyle="italic" dy={2}>c</tspan><tspan dy={-2}>+1</tspan></text>
      <Dots x={195} y={200} />
      <text x={218} y={220} fontSize={21} {...up}>{"{"}</text>
      <text x={227} y={220} fontSize={21} {...it}>Y</text>
      <text x={240} y={223} fontSize={13} {...it}>t′</text>
      <text x={250} y={220} fontSize={21} {...up}>{"}"}</text>
      <text x={262} y={207} fontSize={13} {...it}>t</text>
      <text x={261} y={226} fontSize={13.5} {...up} textLength={58} lengthAdjust="spacingAndGlyphs"><tspan fontStyle="italic">t</tspan>′=<tspan fontStyle="italic">t</tspan>−<tspan fontStyle="italic">n</tspan><tspan fontSize={9} fontStyle="italic" dy={2}>c</tspan></text>
      <text x={333} y={200} fontSize={29} {...it}>Y</text>
      <text x={354} y={205} fontSize={19} {...up} textLength={29} lengthAdjust="spacingAndGlyphs"><tspan fontStyle="italic">t</tspan>+1</text>
      <Txt x={322} y={224} size={14.5} w={72} weight={700} fill={LBLUE}>Observed</Txt>
      <Txt x={337} y={243} size={14.5} w={41} weight={700} fill={LBLUE}>value</Txt>
      <Down x={126} y1={228} y2={259} color="#8c8c8c" />
      <Down x={295} y1={228} y2={259} color="#111" />
      {/* observed value line */}
      <polyline points="358.3,250 358.3,478.3 330,478.3" fill="none" stroke={LBLUE} strokeWidth={1.6} />
      <polyline points="334,474.5 328,478.3 334,482" fill="none" stroke={LBLUE} strokeWidth={1.6} />
      {/* forecaster */}
      <rect x={75} y={261.7} width={251} height={71} rx={12} fill="none" stroke="#111" strokeWidth={2.5} />
      <Txt x={143} y={306} size={22} w={115}>Forecaster</Txt>
      <text x={271} y={308} fontSize={32} {...it}>h</text>
      <Down x={126} y1={339} y2={357} color="#8c8c8c" />
      <Down x={295} y1={339} y2={357} color="#111" />
      <Txt x={61} y={368} size={13.5} w={128} weight={700}>Prediction for t+1</Txt>
      <Txt x={87} y={388} size={13.5} w={76} weight={700}>at offset d</Txt>
      <Dots x={194} y={385} />
      <Txt x={219} y={368} size={13.5} w={129} weight={700}>Prediction for t+1</Txt>
      <Txt x={247} y={388} size={13.5} w={73} weight={700}>at offset 1</Txt>
      {/* predictions math */}
      <text x={76} y={417} fontSize={23} {...it}>Y</text>
      <Hat cx={88} y={398} />
      <text x={96} y={405} fontSize={14} {...it}>d</text>
      <text x={91} y={423} fontSize={14} {...up} textLength={26} lengthAdjust="spacingAndGlyphs"><tspan fontStyle="italic">t</tspan>+1</text>
      <text x={243} y={417} fontSize={23} {...it}>Y</text>
      <Hat cx={255} y={398} />
      <text x={264} y={405} fontSize={14} {...up}>1</text>
      <text x={259} y={424} fontSize={14} {...up} textLength={28} lengthAdjust="spacingAndGlyphs"><tspan fontStyle="italic">t</tspan>+1</text>
      <Down x={124} y1={413} y2={439} color="#8c8c8c" />
      <Down x={296} y1={420} y2={439} color="#111" />
      {/* adaptive conformal */}
      <rect x={69} y={440} width={257} height={79.3} rx={12} fill="none" stroke="#111" strokeWidth={2.5} />
      <Txt x={102} y={472} size={19.5} w={193}>Adaptive Conformal</Txt>
      <Txt x={126} y={498} size={19.5} w={144}>Anomaly Score</Txt>
      <Down x={122.7} y1={522} y2={540} color="#8c8c8c" />
      <Down x={296} y1={522} y2={540} color="#111" />
      <Txt x={69} y={559} size={14} w={103}>p-value for t+1</Txt>
      <Txt x={85} y={580} size={14} w={72}>at offset d</Txt>
      <Dots x={194} y={561} />
      <Txt x={242} y={556} size={14} w={102}>p-value for t+1</Txt>
      <Txt x={257} y={577} size={14} w={71}>at offset 1</Txt>
      {/* betas */}
      <text x={78} y={605} fontSize={21} {...it}>β</text>
      <text x={93} y={595} fontSize={13} {...it}>d</text>
      <text x={91} y={611} fontSize={13} {...up} textLength={26} lengthAdjust="spacingAndGlyphs"><tspan fontStyle="italic">t</tspan>+1</text>
      <text x={248} y={604} fontSize={21} {...it}>β</text>
      <text x={264} y={594} fontSize={13} {...up}>1</text>
      <text x={262} y={610} fontSize={13} {...up} textLength={23} lengthAdjust="spacingAndGlyphs"><tspan fontStyle="italic">t</tspan>+1</text>
      <polyline points="120.7,590 120.7,621.7 196,621.7" fill="none" stroke={LBLUE} strokeWidth={1.8} />
      <polyline points="293.3,590 293.3,621.7 224,621.7" fill="none" stroke={LBLUE} strokeWidth={1.8} />
      <circle cx={210} cy={621.7} r={14} fill="#fff" stroke="#111" strokeWidth={2.5} />
      <polyline points="209.3,635.7 209.3,646.7 235,646.7" fill="none" stroke={LBLUE} strokeWidth={1.8} />
      <polygon points="243,646.7 234,642.7 234,650.7" fill={LBLUE} />
      <Txt x={253} y={652} size={15} w={99} weight={700}>Score @t+1</Txt>
      {/* median formula */}
      <text x={180} y={680} fontSize={22} {...it}>β</text>
      <line x1={183} y1={661.5} x2={194} y2={661.5} stroke="#111" strokeWidth={1} />
      <text x={193} y={686} fontSize={14} {...up} textLength={27} lengthAdjust="spacingAndGlyphs"><tspan fontStyle="italic">t</tspan>+1</text>
      <text x={229} y={680} fontSize={22} {...up}>=</text>
      <text x={246} y={680} fontSize={22} {...it} textLength={87} lengthAdjust="spacingAndGlyphs">median</text>
      <text x={334} y={686} fontSize={14} {...up} textLength={31} lengthAdjust="spacingAndGlyphs"><tspan fontStyle="italic">i</tspan>∈[<tspan fontStyle="italic">d</tspan>]</text>
      <text x={366} y={680} fontSize={22} {...it}>β</text>
      <text x={381} y={669} fontSize={14} {...it}>i</text>
      <text x={380} y={687} fontSize={14} {...up} textLength={29} lengthAdjust="spacingAndGlyphs"><tspan fontStyle="italic">t</tspan>+1</text>
    </g>
  );
}

function Legend() {
  const f = { fontFamily: MPL, fontSize: 11.3, fill: "#222", dominantBaseline: "central" as const };
  return (
    <g>
      <rect x={492.7} y={76.7} width={134} height={54} rx={3} fill="rgba(255,255,255,0.8)" stroke="#d0d0d0" strokeWidth={1} />
      <line x1={497} y1={86.5} x2={521} y2={86.5} stroke="#3a74b1" strokeWidth={1.6} />
      <text x={528} y={86.5} {...f}>y_test</text>
      <rect x={497} y={99.3} width={24} height={8} fill="#f4d6d6" />
      <text x={528} y={103.5} {...f}>Anomaly Label</text>
      <circle cx={508.5} cy={120.7} r={2} fill="#d62728" />
      <text x={528} y={120.7} {...f}>Oultier Detected</text>
    </g>
  );
}

// ---------------- captions ----------------
function renderLine(s: string) {
  const parts = s.split("|");
  return parts.map((p, i) => {
    if (i % 2 === 0) return <React.Fragment key={i}>{p}</React.Fragment>;
    if (p === "W")
      return (
        <React.Fragment key={i}>
          <i>W</i>
          <span style={{ fontSize: "0.7em", verticalAlign: "-0.22em", lineHeight: 0 }}>1</span>
        </React.Fragment>
      );
    return <i key={i}>{p}</i>;
  });
}

function FigureCaption() {
  const refs = useRef<(HTMLSpanElement | null)[]>([]);
  useLayoutEffect(() => {
    const fit = () => {
      refs.current.forEach((el, i) => {
        if (!el || i === CAPTION_LINES_TEXT.length - 1) return;
        el.style.wordSpacing = "0px";
        const w = el.getBoundingClientRect().width;
        const spaces = (el.textContent || "").split(" ").length - 1;
        if (spaces > 0) el.style.wordSpacing = `${(997 - w) / spaces}px`;
      });
    };
    fit();
    if ((document as any).fonts) (document as any).fonts.ready.then(fit);
  }, []);
  return (
    <div style={{ position: "absolute", left: 75, top: 759, fontFamily: SERIF, fontSize: 25.2, lineHeight: "27.5px", color: "#111" }}>
      {CAPTION_LINES_TEXT.map((l, i) => (
        <div key={i} style={{ whiteSpace: "nowrap", height: 27.5 }}>
          <span ref={(el) => { refs.current[i] = el; }}>{renderLine(l)}</span>
        </div>
      ))}
    </div>
  );
}

function SubCaption({ text, cx, left, cy }: any) {
  const style: any = { position: "absolute", top: cy - 14, height: 28, lineHeight: "28px", fontFamily: SERIF, fontSize: 23.5, color: "#111", whiteSpace: "nowrap" };
  if (left !== undefined) style.left = left;
  else {
    style.left = cx - 300;
    style.width = 600;
    style.textAlign = "center";
  }
  return <div style={style}>{text}</div>;
}

export default function App() {
  return (
    <div style={{ position: "absolute", left: 0, top: 0, width: 1080, height: 976, background: "#fff", overflow: "hidden" }}>
      <SignalChart />
      <PValueChart />
      <WeightsChart />
      <svg width={1080} height={976} style={{ position: "absolute", left: 0, top: 0, pointerEvents: "none" }}>
        <Diagram />
        <Legend />
      </svg>
      <SubCaption text={"(a)\u00a0\u2006Adaptive Anomaly Score Pipeline."} left={50} cy={709} />
      <SubCaption text={"(b)\u00a0\u2006Anomaly Detection Example."} cx={731} cy={398} />
      <SubCaption text={"(c)\u00a0\u2006Non-conformity Scores vs Conformal Weights."} cx={731} cy={697} />
      <FigureCaption />
    </div>
  );
}
